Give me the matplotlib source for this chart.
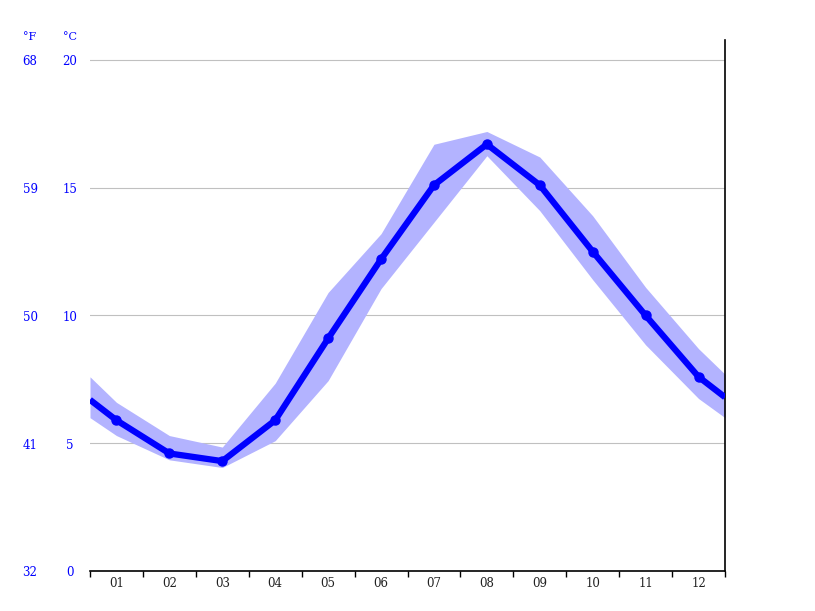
import numpy as np
import matplotlib.pyplot as plt
from matplotlib import transforms

# month positions, incl. half-month wrap points at both ends
x_pos = [0.5, 1, 2, 3, 4, 5, 6, 7, 8, 9, 10, 11, 12, 12.5]
t_mean = [6.7, 5.9, 4.6, 4.3, 5.9, 9.1, 12.2, 15.1, 16.7, 15.1, 12.5, 10.0, 7.6, 6.8]
t_high = [7.6, 6.6, 5.3, 4.85, 7.35, 10.9, 13.2, 16.7, 17.2, 16.2, 13.9, 11.1, 8.7, 7.7]
t_low = [6.0, 5.3, 4.35, 4.05, 5.1, 7.45, 11.05, 13.65, 16.25, 14.1, 11.4, 8.85, 6.75, 6.0]
month_labels = ['01', '02', '03', '04', '05', '06', '07', '08', '09', '10', '11', '12']
c_ticks = [0, 5, 10, 15, 20]
f_ticks = ['32', '41', '50', '59', '68']

plt.rcParams['font.family'] = 'DejaVu Serif'

fig = plt.figure(figsize=(8.15, 6.11), dpi=100)
ax = fig.add_axes([90/815, 40/611, 635/815, 531/611])

ax.fill_between(x_pos, t_low, t_high, color='#b3b3ff', lw=0, zorder=2)
ax.plot(x_pos, t_mean, color='#0000ff', lw=4.5, zorder=3, solid_capstyle='butt')
ax.plot(x_pos[1:-1], t_mean[1:-1], 'o', color='#0000ff', ms=6.5, zorder=4)

ax.set_xlim(0.5, 12.5)
ax.set_ylim(0, 20.78)

for v in c_ticks[1:]:
    ax.axhline(v, color='#c0c0c0', lw=0.8, zorder=1)

ax.spines['left'].set_visible(False)
ax.spines['top'].set_visible(False)
ax.spines['bottom'].set_linewidth(1.2)
ax.spines['right'].set_linewidth(1.2)

ax.set_xticks(np.arange(0.5, 13, 1))
ax.set_xticklabels([])
ax.set_xticks(np.arange(1, 13), minor=True)
ax.set_xticklabels(month_labels, minor=True)
ax.tick_params(axis='x', which='major', length=4, width=1, direction='out')
ax.tick_params(axis='x', which='minor', length=0, pad=4, labelsize=8.5, labelcolor='#222222')
ax.set_yticks([])

# nudge the side labels a couple of pixels down
trans = transforms.blended_transform_factory(fig.transFigure, ax.transData) + \
    transforms.ScaledTranslation(0, -2/100, fig.dpi_scale_trans)
for c, f in zip(c_ticks, f_ticks):
    ax.text(70/815, c, str(c), transform=trans, ha='center', va='center',
            color='#0000ff', fontsize=8.5)
    ax.text(30/815, c, f, transform=trans, ha='center', va='center',
            color='#0000ff', fontsize=8.5)
fig.text(30/815, 1 - 37/611, '°F', ha='center', va='center', color='#0000ff', fontsize=8)
fig.text(70/815, 1 - 37/611, '°C', ha='center', va='center', color='#0000ff', fontsize=8)

fig.savefig('out.png', dpi=100)
